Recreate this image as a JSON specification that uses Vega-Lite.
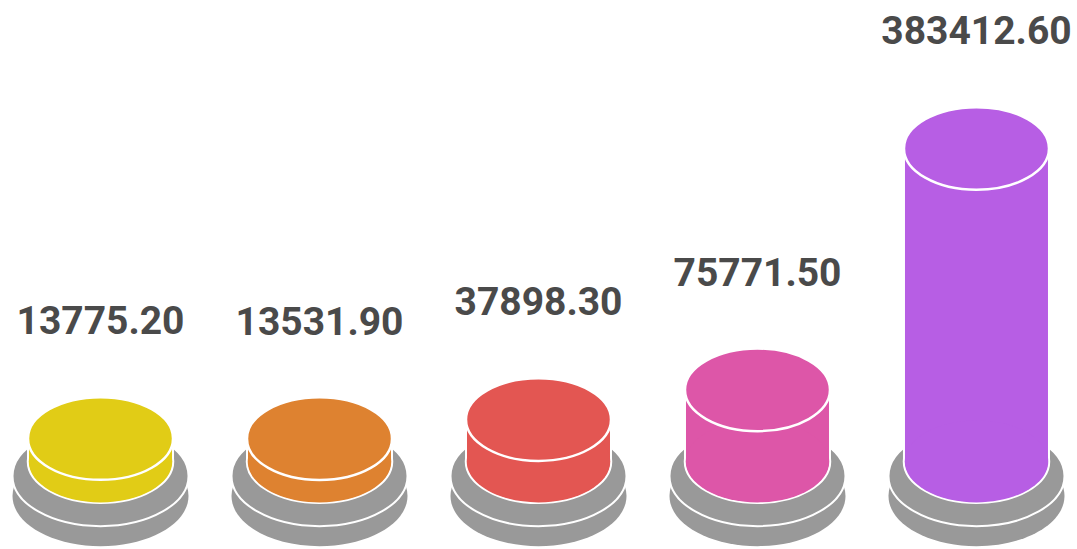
{
  "$schema": "https://vega.github.io/schema/vega-lite/v6.json",
  "width": 1077,
  "height": 549,
  "padding": 0,
  "autosize": {"type": "none"},
  "background": "white",
  "config": {"view": {"stroke": null}},
  "data": {
    "values": [
      {"cat": "A", "value": 13775.2},
      {"cat": "B", "value": 13531.9},
      {"cat": "C", "value": 37898.3},
      {"cat": "D", "value": 75771.5},
      {"cat": "E", "value": 383412.6}
    ]
  },
  "encoding": {
    "x": {"field": "cat", "type": "nominal", "scale": {"type": "point", "padding": 0.459}, "axis": null}
  },
  "layer": [
    {
      "mark": {"type": "point", "filled": true, "opacity": 1, "fill": "#999999", "strokeWidth": 0,
        "shape": "M -1 0 C -1 -0.3148 -0.5523 -0.57 0 -0.57 C 0.5523 -0.57 1 -0.3148 1 0 C 1 0.3148 0.5523 0.57 0 0.57 C -0.5523 0.57 -1 0.3148 -1 0 Z",
        "size": 30976},
      "encoding": {"y": {"datum": -59520, "type": "quantitative", "scale": {"domain": [-127072, 572649], "nice": false, "zero": false}, "axis": null}}
    },
    {
      "mark": {"type": "point", "filled": true, "opacity": 1, "fill": "#999999", "stroke": "white", "strokeWidth": 2,
        "shape": "M -1 0 C -1 -0.3148 -0.5523 -0.57 0 -0.57 C 0.5523 -0.57 1 -0.3148 1 0 C 1 0.3148 0.5523 0.57 0 0.57 C -0.5523 0.57 -1 0.3148 -1 0 Z",
        "size": 30976},
      "encoding": {"y": {"datum": -34030, "type": "quantitative"}}
    },
    {
      "mark": {"type": "point", "filled": true, "opacity": 1, "stroke": "white", "strokeWidth": 2.5,
        "shape": "M -1 0 C -1 -0.3148 -0.5523 -0.57 0 -0.57 C 0.5523 -0.57 1 -0.3148 1 0 C 1 0.3148 0.5523 0.57 0 0.57 C -0.5523 0.57 -1 0.3148 -1 0 Z",
        "size": 21025},
      "encoding": {
        "y": {"datum": -15550, "type": "quantitative"},
        "color": {"field": "cat", "type": "nominal", "legend": null,
          "scale": {"domain": ["A", "B", "C", "D", "E"], "range": ["#e1cc16", "#de8230", "#e35652", "#dd56a8", "#b75ee4"]}}
      }
    },
    {
      "mark": {"type": "bar", "width": 145, "stroke": "white", "strokeWidth": 2},
      "encoding": {
        "y": {"field": "value", "type": "quantitative"},
        "y2": {"datum": -15550},
        "color": {"field": "cat", "type": "nominal", "legend": null}
      }
    },
    {
      "mark": {"type": "point", "filled": true, "opacity": 1, "strokeWidth": 0,
        "shape": "M -1 0 C -1 -0.3148 -0.5523 -0.57 0 -0.57 C 0.5523 -0.57 1 -0.3148 1 0 C 1 0.3148 0.5523 0.57 0 0.57 C -0.5523 0.57 -1 0.3148 -1 0 Z",
        "size": 20600},
      "encoding": {
        "y": {"datum": -15550, "type": "quantitative"},
        "color": {"field": "cat", "type": "nominal", "legend": null}
      }
    },
    {
      "mark": {"type": "point", "filled": true, "opacity": 1, "stroke": "white", "strokeWidth": 2.5,
        "shape": "M -1 0 C -1 -0.3148 -0.5523 -0.57 0 -0.57 C 0.5523 -0.57 1 -0.3148 1 0 C 1 0.3148 0.5523 0.57 0 0.57 C -0.5523 0.57 -1 0.3148 -1 0 Z",
        "size": 21025},
      "encoding": {
        "y": {"field": "value", "type": "quantitative"},
        "color": {"field": "cat", "type": "nominal", "legend": null}
      }
    },
    {
      "mark": {"type": "text", "dy": -104.1, "baseline": "alphabetic", "align": "center", "font": "Roboto", "fontWeight": "bold", "fontSize": 39, "fill": "#4a4a4a"},
      "encoding": {
        "y": {"field": "value", "type": "quantitative"},
        "text": {"field": "value", "type": "quantitative", "format": ".2f"}
      }
    }
  ]
}
